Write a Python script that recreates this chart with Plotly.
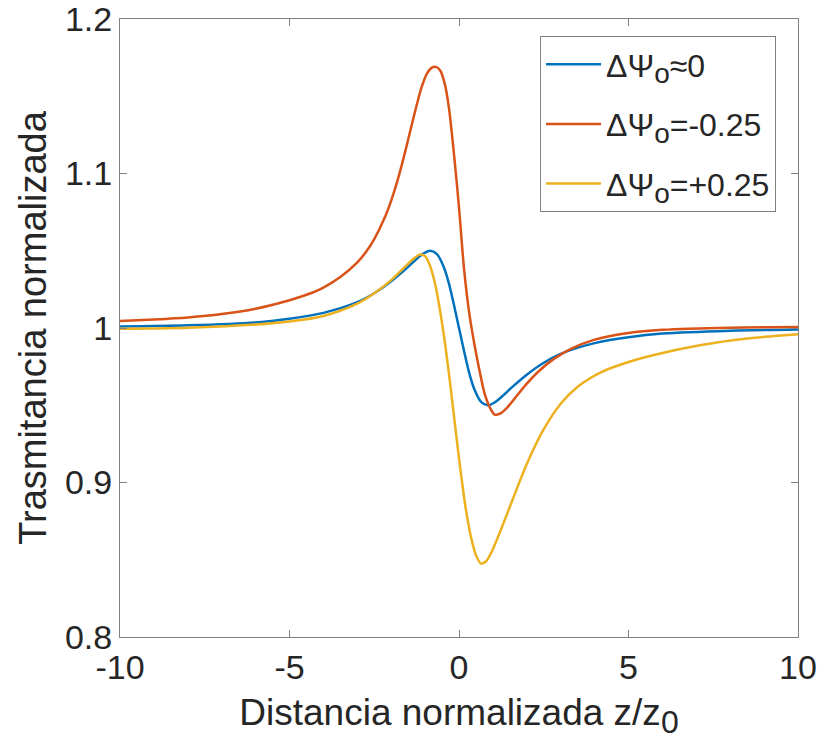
import plotly.graph_objects as go

# Blue: ΔΨo≈0
z_blue = [-10, -8, -6, -5, -4, -3, -2.5, -2, -1.6, -1.3, -1.05, -0.85, -0.65, -0.45, -0.3, -0.15,
          0, 0.15, 0.3, 0.45, 0.65, 0.85, 1.05, 1.3, 1.6, 2.0, 2.5, 3, 4, 5, 6, 8, 10]
t_blue = [1.0009, 1.0017, 1.0036, 1.0060, 1.0098, 1.0167, 1.0225, 1.0302, 1.0376, 1.0437, 1.0482,
          1.0500, 1.0478, 1.0395, 1.0290, 1.0150, 1.0, 0.9850, 0.9710, 0.9605, 0.9522, 0.9500,
          0.9518, 0.9563, 0.9624, 0.9698, 0.9775, 0.9833, 0.9902, 0.9940, 0.9964, 0.9983, 0.9991]

# Orange: ΔΨo=-0.25
z_orange = [-10, -9, -8, -7, -6, -5, -4.5, -4, -3.5, -3, -2.75, -2.5, -2.2, -2.0, -1.8, -1.6,
            -1.4, -1.24, -1.1, -0.95, -0.8, -0.68, -0.55, -0.42, -0.3, -0.15, 0, 0.15, 0.3,
            0.45, 0.6, 0.75, 0.9, 1.05, 1.2, 1.4, 1.7, 2.0, 2.4, 2.8, 3.3, 4, 5, 6, 8, 10]
t_orange = [1.0045, 1.0055, 1.0068, 1.0090, 1.0125, 1.0180, 1.0215, 1.0262, 1.0330, 1.0425,
            1.0490, 1.0575, 1.0710, 1.0825, 1.0965, 1.1130, 1.1310, 1.1450, 1.1560, 1.1645,
            1.1685, 1.1690, 1.1665, 1.1580, 1.1430, 1.1130, 1.0780, 1.0380, 1.0100, 0.9900,
            0.9730, 0.9580, 0.9490, 0.9440, 0.9445, 0.9480, 0.9560, 0.9640, 0.9730, 0.9800,
            0.9865, 0.9925, 0.9968, 0.9988, 1.0002, 1.0006]

# Yellow: ΔΨo=+0.25
z_yellow = [-10, -8, -6, -5, -4, -3, -2.5, -2, -1.6, -1.35, -1.15, -1.0, -0.85, -0.7, -0.55, -0.4,
            -0.25, -0.1, 0.05, 0.2, 0.35, 0.5, 0.65, 0.8, 0.95, 1.1, 1.3, 1.6, 2.0, 2.5,
            3.0, 3.5, 4.2, 5, 5.63, 7.1, 8.5, 10]
t_yellow = [0.9995, 1.0002, 1.0022, 1.0042, 1.0078, 1.0158, 1.0225, 1.0310, 1.0395, 1.0447,
            1.0475, 1.0465, 1.0400, 1.0280, 1.0100, 0.9880, 0.9620, 0.9340, 0.9070, 0.8830,
            0.8650, 0.8530, 0.8475, 0.8490, 0.8545, 0.8620, 0.8730, 0.8900, 0.9120, 0.9345,
            0.9510, 0.9620, 0.9715, 0.9780, 0.9819, 0.9888, 0.9932, 0.9959]

x_ticks = [-10, -5, 0, 5, 10]
y_ticks = [0.8, 0.9, 1.0, 1.1, 1.2]
y_tick_labels = ["0.8", "0.9", "1", "1.1", "1.2"]

SUB = '<sub><span style="font-size:28px">o</span></sub>'
names = ["ΔΨ" + SUB + "≈0", "ΔΨ" + SUB + "=-0.25", "ΔΨ" + SUB + "=+0.25"]
colors = ["#0072BD", "#D95319", "#EDB120"]

fig = go.Figure()
for i, (zz, tt, nm, c) in enumerate([(z_blue, t_blue, names[0], colors[0]),
                                      (z_orange, t_orange, names[1], colors[1]),
                                      (z_yellow, t_yellow, names[2], colors[2])]):
    fig.add_trace(go.Scatter(x=zz, y=tt, mode="lines", name=nm, legendgroup="g%d" % i,
                             line=dict(color=c, width=2.5, shape="spline", smoothing=0.8)))

font = "Liberation Sans, Arial, sans-serif"
axis_common = dict(showgrid=False, zeroline=False, showline=True, linecolor="#808080",
                   linewidth=1, mirror="ticks", ticks="inside", ticklen=7, automargin=False,
                   ticklabeloverflow="allow",
                   tickcolor="#808080", tickfont=dict(family=font, size=34, color="#262626"))

fig.update_layout(
    width=820, height=756,
    margin=dict(l=120, r=22, t=19, b=119),
    paper_bgcolor="white", plot_bgcolor="white",
    xaxis=dict(range=[-10, 10], tickvals=x_ticks, ticktext=[str(v) for v in x_ticks],
               title=dict(text='Distancia normalizada z/z<sub><span style="font-size:32px">0</span></sub>',
                          font=dict(family=font, size=37, color="#262626"), standoff=14),
               **axis_common),
    yaxis=dict(range=[0.8, 1.2], tickvals=y_ticks, ticktext=y_tick_labels,
               title=dict(text="Trasmitancia normalizada",
                          font=dict(family=font, size=38, color="#262626"), standoff=6),
               **axis_common),
    legend=dict(x=0.6195, y=0.9725, xanchor="left", yanchor="top",
                bgcolor="white", bordercolor="#808080", borderwidth=1,
                font=dict(family=font, size=32, color="#262626"),
                tracegroupgap=15, itemwidth=55, traceorder="grouped"),
    showlegend=True,
)

fig.write_html("out.html")
